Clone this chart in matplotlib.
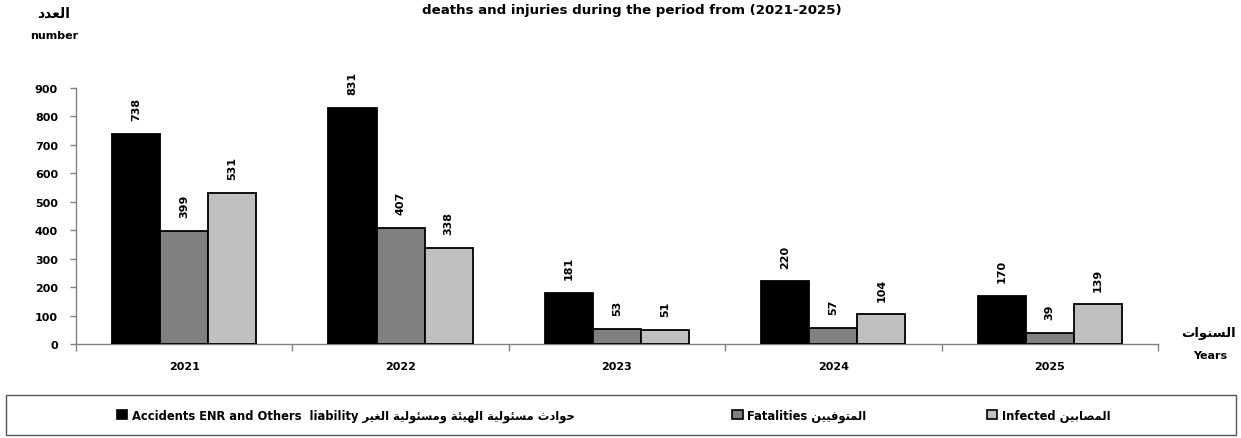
import matplotlib
matplotlib.use("Agg")
import matplotlib.pyplot as plt
import numpy as np
from matplotlib.patches import Rectangle, Patch

# ---------------- data ----------------
years = ['2021', '2022', '2023', '2024', '2025']
accidents = [738, 831, 181, 220, 170]
fatalities = [399, 407, 53, 57, 39]
infected = [531, 338, 51, 104, 139]
y_ticks = [0, 100, 200, 300, 400, 500, 600, 700, 800, 900]

title_text = "deaths and injuries during the period from (2021-2025)"
ar_accidents = "حوادث مسئولية الهيئة ومسئولية الغير"
ar_fatalities = "المتوفيين"
ar_infected = "المصابين"
ar_number = "العدد"
ar_years = "السنوات"

# -------------- simple Arabic shaping (presentation forms + visual order) --------------
FORMS = {
    '\u0627': ('\uFE8D', '\uFE8E', None, None),
    '\u0628': ('\uFE8F', '\uFE90', '\uFE91', '\uFE92'),
    '\u0629': ('\uFE93', '\uFE94', None, None),
    '\u062A': ('\uFE95', '\uFE96', '\uFE97', '\uFE98'),
    '\u062B': ('\uFE99', '\uFE9A', '\uFE9B', '\uFE9C'),
    '\u062D': ('\uFEA1', '\uFEA2', '\uFEA3', '\uFEA4'),
    '\u062F': ('\uFEA9', '\uFEAA', None, None),
    '\u0631': ('\uFEAD', '\uFEAE', None, None),
    '\u0633': ('\uFEB1', '\uFEB2', '\uFEB3', '\uFEB4'),
    '\u0635': ('\uFEB9', '\uFEBA', '\uFEBB', '\uFEBC'),
    '\u0639': ('\uFEC9', '\uFECA', '\uFECB', '\uFECC'),
    '\u063A': ('\uFECD', '\uFECE', '\uFECF', '\uFED0'),
    '\u0641': ('\uFED1', '\uFED2', '\uFED3', '\uFED4'),
    '\u0644': ('\uFEDD', '\uFEDE', '\uFEDF', '\uFEE0'),
    '\u0645': ('\uFEE1', '\uFEE2', '\uFEE3', '\uFEE4'),
    '\u0646': ('\uFEE5', '\uFEE6', '\uFEE7', '\uFEE8'),
    '\u0647': ('\uFEE9', '\uFEEA', '\uFEEB', '\uFEEC'),
    '\u0648': ('\uFEED', '\uFEEE', None, None),
    '\u064A': ('\uFEF1', '\uFEF2', '\uFEF3', '\uFEF4'),
    '\u0626': ('\uFE89', '\uFE8A', '\uFE8B', '\uFE8C'),
}


def ar(text):
    out = []
    n = len(text)
    for i, c in enumerate(text):
        if c not in FORMS:
            out.append(c)
            continue
        prev = text[i - 1] if i > 0 else None
        nxt = text[i + 1] if i + 1 < n else None
        jp = prev in FORMS and FORMS[prev][2] is not None
        jn = FORMS[c][2] is not None and nxt in FORMS
        iso, fin, ini, med = FORMS[c]
        if jp and jn:
            out.append(med)
        elif jp:
            out.append(fin)
        elif jn:
            out.append(ini)
        else:
            out.append(iso)
    return ''.join(out)[::-1]


FAM = ['DejaVu Sans']
plt.rcParams['font.family'] = FAM
plt.rcParams['font.weight'] = 'bold'

fig = plt.figure(figsize=(12.41, 4.39), dpi=100)
ax = fig.add_axes([0.0612, 0.2141, 0.8719, 0.5832])

x = np.arange(len(years)) + 0.5
w = 0.222
series = [(accidents, '#000000'), (fatalities, '#808080'), (infected, '#C0C0C0')]
for k, (vals, col) in enumerate(series):
    bars = ax.bar(x + (k - 1) * w, vals, width=w, color=col,
                  edgecolor='black', linewidth=1.3, zorder=3)
    for b, v in zip(bars, vals):
        ax.annotate(str(v), (b.get_x() + b.get_width() / 2, b.get_height()),
                    xytext=(0, 10), textcoords='offset points',
                    rotation=90, ha='center', va='bottom',
                    fontsize=8, fontweight='bold')

ax.set_xlim(0, len(years))
ax.set_ylim(0, 900)
ax.set_yticks(y_ticks)
ax.set_yticklabels([str(t) for t in y_ticks], fontsize=8, fontweight='bold')
ax.set_xticks(x)
ax.set_xticklabels(years, fontsize=8, fontweight='bold')
ax.set_xticks(np.arange(len(years) + 1), minor=True)
ax.tick_params(axis='x', which='major', length=0, pad=12)
ax.tick_params(axis='x', which='minor', length=5, color='#808080', width=1)
ax.tick_params(axis='y', length=4, color='#808080', width=1, pad=9)
for s in ['top', 'right']:
    ax.spines[s].set_visible(False)
for s in ['left', 'bottom']:
    ax.spines[s].set_color('#808080')
    ax.spines[s].set_linewidth(1)

# titles / axis labels
fig.text(0.509, 0.977, title_text, ha='center', va='center',
         fontsize=9.6, fontweight='bold')
fig.text(0.043, 0.968, ar(ar_number), ha='center', va='center',
         fontsize=10, fontweight='bold')
fig.text(0.044, 0.918, 'number', ha='center', va='center',
         fontsize=8, fontweight='bold')
fig.text(0.974, 0.241, ar(ar_years), ha='center', va='center',
         fontsize=9.5, fontweight='bold')
fig.text(0.975, 0.189, 'Years', ha='center', va='center',
         fontsize=8, fontweight='bold')

# legend frame
fig.patches.append(Rectangle((0.0048, 0.0068), 0.9912, 0.0912,
                             transform=fig.transFigure, fill=False,
                             edgecolor='#555555', linewidth=1))

labels = ["Accidents ENR and Others  liability " + ar(ar_accidents),
          "Fatalities " + ar(ar_fatalities),
          "Infected " + ar(ar_infected)]
xs = [0.0943, 0.590, 0.795]
for (vals, col), lab, lx in zip(series, labels, xs):
    h = Patch(facecolor=col, edgecolor='black', linewidth=1.2)
    fig.legend([h], [lab], loc='center left', bbox_to_anchor=(lx, 0.052),
               bbox_transform=fig.transFigure, frameon=False,
               handlelength=0.9, handleheight=0.9, handletextpad=0.4,
               borderpad=0, borderaxespad=0,
               prop={'size': 8.3, 'weight': 'bold', 'family': FAM})

fig.savefig('out.png', dpi=100)
